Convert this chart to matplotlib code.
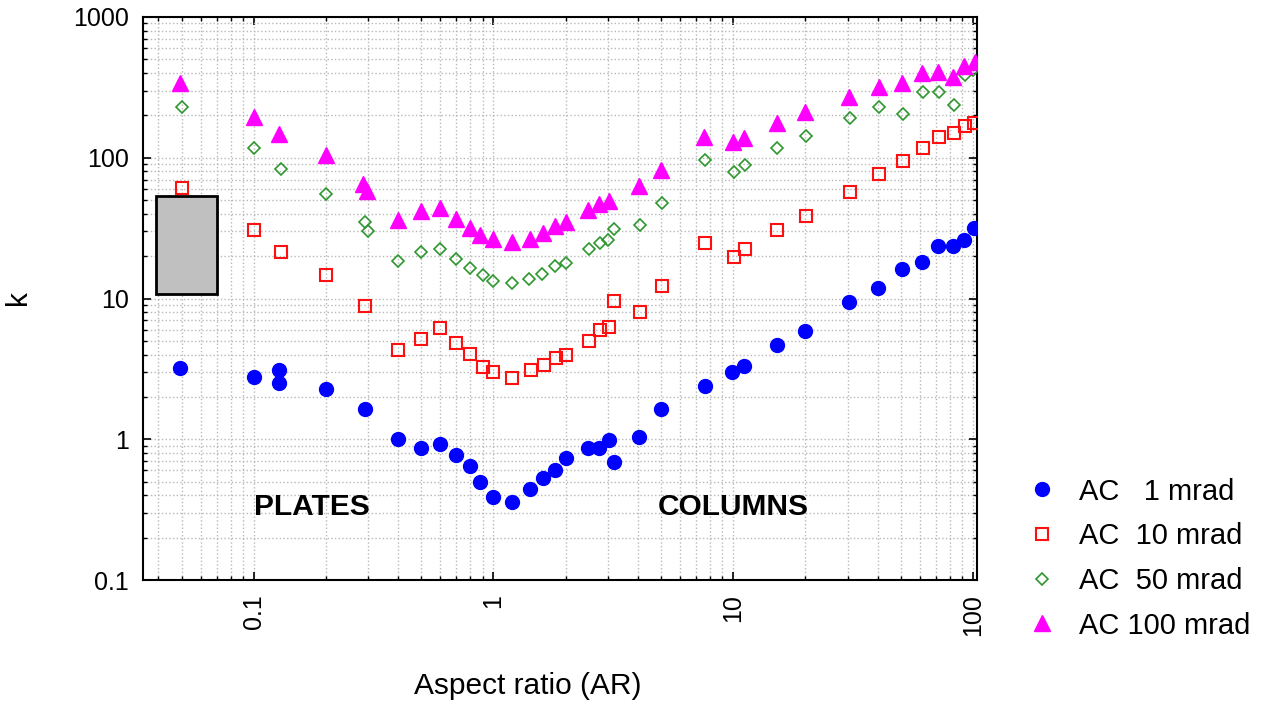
import matplotlib
matplotlib.use("Agg")
import matplotlib.pyplot as plt
from matplotlib.patches import Rectangle
from matplotlib.ticker import FixedLocator, FixedFormatter, LogLocator, NullFormatter

plt.rcParams['font.family'] = ['Liberation Sans', 'DejaVu Sans']

# ---- data ----
x_1mrad = [0.049, 0.1, 0.128, 0.128, 0.2, 0.29, 0.4, 0.5, 0.6, 0.7, 0.8, 0.88, 1.0, 1.2, 1.42,
           1.61, 1.8, 2.0, 2.48, 2.75, 3.02, 3.17, 4.05, 5.0, 7.6, 9.9, 11.1, 15.2, 20, 30.5,
           40.3, 50.7, 61.5, 71.7, 82.7, 91.7, 101]
k_1mrad = [3.22, 2.78, 3.1, 2.52, 2.26, 1.63, 1.01, 0.87, 0.93, 0.77, 0.65, 0.50, 0.39, 0.36, 0.44,
           0.53, 0.60, 0.73, 0.87, 0.87, 0.98, 0.69, 1.04, 1.63, 2.39, 3.02, 3.31, 4.64, 5.86, 9.41,
           11.9, 16.2, 18.1, 23.5, 23.5, 26.2, 31.7]

x_10mrad = [0.05, 0.1, 0.13, 0.2, 0.29, 0.4, 0.5, 0.6, 0.7, 0.8, 0.9, 1.0, 1.2, 1.43, 1.62, 1.83,
            2.0, 2.51, 2.77, 3.04, 3.19, 4.07, 5.05, 7.65, 10.1, 11.2, 15.3, 20.2, 30.6, 40.7, 51,
            62, 72.5, 83, 92.5, 101]
k_10mrad = [61, 30.5, 21.3, 14.6, 8.8, 4.28, 5.12, 6.13, 4.85, 4.01, 3.28, 3.0, 2.74, 3.1, 3.37, 3.8,
            4.0, 4.98, 5.93, 6.3, 9.57, 8.0, 12.2, 24.8, 19.8, 22.3, 30.5, 38.8, 56.7, 77, 94.3,
            117, 140, 151, 167, 176]

x_50mrad = [0.05, 0.1, 0.13, 0.2, 0.29, 0.3, 0.4, 0.5, 0.6, 0.7, 0.8, 0.9, 1.0, 1.2, 1.4, 1.6, 1.8,
            2.0, 2.5, 2.77, 3.0, 3.19, 4.07, 5.05, 7.65, 10.1, 11.2, 15.3, 20.2, 30.6, 40.7, 51,
            62, 72.5, 83, 92.5, 100]
k_50mrad = [229, 117, 83.5, 55.6, 34.8, 30.4, 18.4, 21.3, 22.6, 19.1, 16.5, 14.6, 13.3, 12.8, 13.8,
            15.0, 16.9, 17.9, 22.3, 24.6, 26.2, 31.4, 33.5, 47.8, 96.8, 79.2, 89.1, 117, 143, 193,
            229, 204, 295, 295, 238, 388, 421]

x_100mrad = [0.049, 0.1, 0.128, 0.2, 0.286, 0.296, 0.4, 0.5, 0.6, 0.7, 0.8, 0.88, 1.0, 1.2, 1.42,
             1.61, 1.81, 2.01, 2.48, 2.75, 3.02, 4.03, 5.0, 7.57, 10, 11.1, 15.2, 20, 30.5, 40.5,
             50.7, 61.5, 71.7, 82.7, 91.7, 102]
k_100mrad = [342, 194, 148, 104, 65.4, 57.7, 35.9, 41.6, 44, 36.9, 31.7, 28.1, 26.5, 25.1, 26.5,
             29.2, 32.6, 34.8, 42.8, 47, 49.6, 63.3, 81.3, 140, 128.5, 139, 176, 213, 269, 320,
             342, 403, 409, 377, 449, 482]

labels = ["AC   1 mrad", "AC  10 mrad", "AC  50 mrad", "AC 100 mrad"]

# shaded range box (AR range, k range)
box_x = [0.039, 0.070]
box_k = [10.7, 53.8]

x_ticks = [0.1, 1, 10, 100]
x_ticklabels = ["0.1", "1", "10", "100"]
y_ticks = [0.1, 1, 10, 100, 1000]
y_ticklabels = ["0.1", "1", "10", "100", "1000"]

# ---- figure ----
W, H = 1268, 704
fig = plt.figure(figsize=(W / 100, H / 100), dpi=100)
ax = fig.add_axes([143 / W, 1 - 580 / H, (977 - 143) / W, (580 - 17) / H])
ax.set_xscale('log')
ax.set_yscale('log')
ax.set_xlim(0.0345, 104)
ax.set_ylim(0.1, 1000)

ax.grid(True, which='both', linestyle=':', color='#b8b8b8', linewidth=1.0)
ax.set_axisbelow(True)

ax.add_patch(Rectangle((box_x[0], box_k[0]), box_x[1] - box_x[0], box_k[1] - box_k[0],
                       facecolor='#c0c0c0', edgecolor='black', linewidth=2, zorder=2))

ax.plot(x_1mrad, k_1mrad, linestyle='none', marker='o', markersize=10,
        color='#0000ff', label=labels[0], zorder=3)
ax.plot(x_10mrad, k_10mrad, linestyle='none', marker='s', markersize=8,
        markerfacecolor='none', markeredgecolor='#ff1010', markeredgewidth=1.5,
        label=labels[1], zorder=3)
ax.plot(x_50mrad, k_50mrad, linestyle='none', marker='D', markersize=6.5,
        markerfacecolor='none', markeredgecolor='#2e962e', markeredgewidth=1.2,
        label=labels[2], zorder=3)
ax.plot(x_100mrad, k_100mrad, linestyle='none', marker='^', markersize=11,
        color='#ff00ff', label=labels[3], zorder=3)

ax.xaxis.set_major_locator(FixedLocator(x_ticks))
ax.xaxis.set_major_formatter(FixedFormatter(x_ticklabels))
ax.yaxis.set_major_locator(FixedLocator(y_ticks))
ax.yaxis.set_major_formatter(FixedFormatter(y_ticklabels))
ax.xaxis.set_minor_locator(LogLocator(base=10, subs=range(2, 10), numticks=20))
ax.yaxis.set_minor_locator(LogLocator(base=10, subs=range(2, 10), numticks=20))
ax.xaxis.set_minor_formatter(NullFormatter())
ax.yaxis.set_minor_formatter(NullFormatter())

ax.tick_params(which='both', direction='in', top=True, right=True, color='black')
ax.tick_params(which='major', length=6, width=1.2, labelsize=18, pad=10)
ax.tick_params(which='minor', length=3, width=1.0)
ax.tick_params(axis='x', labelrotation=90)
for lab in ax.get_xticklabels():
    lab.set_verticalalignment('top')

for s in ax.spines.values():
    s.set_linewidth(1.5)
    s.set_color('black')

fig.text(528 / W, 1 - 686 / H, "Aspect ratio (AR)", fontsize=21.5, ha='center', va='center')
fig.text(18 / W, 1 - 298 / H, "k", fontsize=21.5, rotation=90, ha='center', va='center')

ax.text(0.174, 0.33, "PLATES", fontsize=21.5, fontweight='bold', ha='center', va='center')
ax.text(10.0, 0.33, "COLUMNS", fontsize=21.5, fontweight='bold', ha='center', va='center')

ax.legend(loc='center left', bbox_to_anchor=(1.0464, 0.038), frameon=False, fontsize=21,
          handlelength=1.0, handletextpad=0.77, labelspacing=0.57, borderaxespad=0,
          borderpad=0.4)

fig.savefig("out.png", dpi=100)
